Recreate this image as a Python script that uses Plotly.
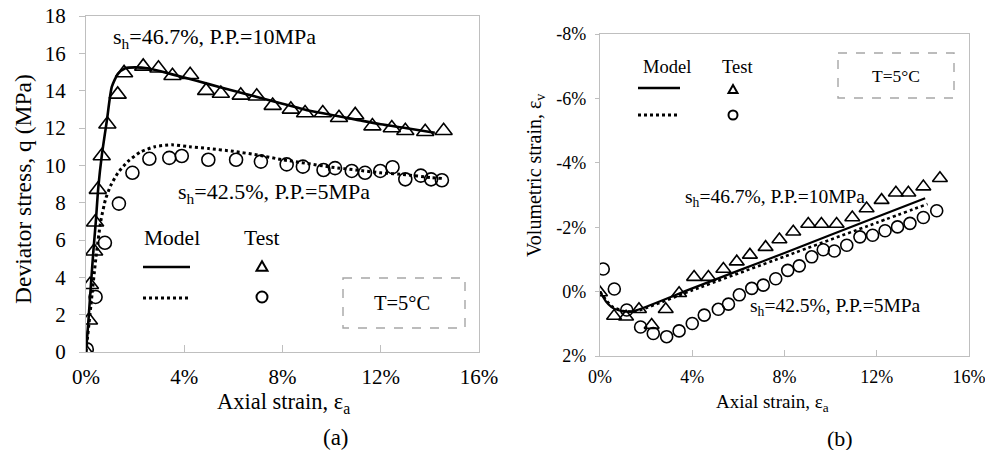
import plotly.graph_objects as go

# Page is offset by the browser's default 8px body margin; figure drawn to fill the rest of the window.
OFF = 8
W, H = 993 - OFF, 450 - OFF
FONT = "'Liberation Serif', 'Times New Roman', Times, serif"

# ---------------- data (a): deviator stress ----------------
a_tri_x = [0.0, 0.12, 0.16, 0.33, 0.37, 0.48, 0.64, 0.87, 1.29, 1.55, 2.33, 2.95, 3.52, 4.24, 4.89, 5.49,
           6.30, 6.95, 7.60, 8.34, 8.92, 9.64, 10.30, 10.96, 11.66, 12.45, 13.00, 13.81, 14.56]
a_tri_y = [0.0, 1.7, 3.6, 5.4, 6.95, 8.7, 10.5, 12.2, 13.8, 14.95, 15.3, 15.2, 14.8, 14.85, 14.0, 13.85,
           13.75, 13.7, 13.2, 13.0, 12.8, 12.8, 12.55, 12.7, 12.1, 12.0, 11.85, 11.8, 11.85]
a_cir_x = [0.03, 0.39, 0.77, 1.34, 1.89, 2.58, 3.39, 3.90, 4.98, 6.11, 7.12, 8.17, 8.83, 9.67, 10.14,
           10.82, 11.36, 11.98, 12.48, 13.00, 13.63, 14.05, 14.49]
a_cir_y = [0.15, 2.95, 5.85, 7.95, 9.6, 10.35, 10.4, 10.5, 10.3, 10.3, 10.2, 10.05, 9.93, 9.75, 9.85,
           9.7, 9.6, 9.7, 9.9, 9.25, 9.45, 9.25, 9.2]
a_mod1_x = [0.0, 0.1, 0.2, 0.3, 0.4, 0.5, 0.65, 0.85, 1.05, 1.3, 1.6, 2.0, 2.5, 3.0, 4.0, 5.0, 6.0, 7.0,
            8.0, 9.0, 10.0, 11.0, 12.0, 13.0, 14.2]
a_mod1_y = [0.0, 1.7, 3.6, 5.4, 7.0, 8.8, 10.6, 12.4, 14.2, 14.9, 15.2, 15.25, 15.2, 15.05, 14.7, 14.35,
            14.0, 13.65, 13.3, 12.95, 12.7, 12.45, 12.2, 12.0, 11.75]
a_mod2_x = [0.0, 0.2, 0.4, 0.6, 0.8, 1.0, 1.3, 1.7, 2.2, 2.8, 3.5, 4.2, 5.0, 6.0, 7.0, 8.0, 9.0, 10.0,
            11.0, 12.0, 13.0, 14.0, 14.5]
a_mod2_y = [0.0, 2.5, 5.0, 7.0, 8.2, 8.9, 9.6, 10.2, 10.7, 11.0, 11.1, 11.0, 10.9, 10.75, 10.55, 10.3,
            10.1, 9.9, 9.75, 9.6, 9.5, 9.35, 9.3]

# ---------------- data (b): volumetric strain (%) ----------------
b_tri_x = [0.0, 0.61, 1.13, 1.69, 2.24, 2.85, 3.43, 4.08, 4.70, 5.35, 5.93, 6.50, 7.18, 7.78, 8.38,
           9.03, 9.60, 10.26, 10.94, 11.56, 12.21, 12.83, 13.37, 14.02, 14.74]
b_tri_y = [0.03, 0.76, 0.78, 0.55, 1.04, 0.55, 0.05, -0.45, -0.45, -0.70, -0.93, -1.14, -1.38, -1.62,
           -1.86, -2.10, -2.10, -2.10, -2.30, -2.58, -2.84, -3.07, -3.07, -3.26, -3.52]
b_cir_x = [0.14, 0.62, 1.16, 1.76, 2.31, 2.89, 3.43, 4.00, 4.52, 5.13, 5.57, 6.04, 6.58, 7.08, 7.62,
           8.14, 8.64, 9.18, 9.68, 10.16, 10.70, 11.27, 11.82, 12.36, 12.90, 13.44, 14.02, 14.60]
b_cir_y = [-0.70, -0.08, 0.57, 1.10, 1.30, 1.40, 1.22, 0.99, 0.73, 0.55, 0.39, 0.10, -0.10, -0.20, -0.40,
           -0.66, -0.80, -1.08, -1.30, -1.26, -1.44, -1.70, -1.75, -1.89, -2.01, -2.12, -2.30, -2.51]
b_mod1_x = [0.0, 0.25, 0.5, 0.8, 1.1, 1.5, 4.0, 8.0, 12.0, 14.1]
b_mod1_y = [0.0, 0.3, 0.48, 0.58, 0.62, 0.6, -0.1, -1.2, -2.32, -2.9]
b_mod2_x = [0.0, 0.5, 1.0, 1.5, 4.0, 8.0, 12.0, 14.2]
b_mod2_y = [0.0, 0.45, 0.6, 0.62, -0.04, -1.09, -2.14, -2.72]

a_xticks = [0, 4, 8, 12, 16]
a_xtext = ["0%", "4%", "8%", "12%", "16%"]
a_yticks = [0, 2, 4, 6, 8, 10, 12, 14, 16, 18]
b_yticks = [-8, -6, -4, -2, 0, 2]
b_ytext = ["-8%", "-6%", "-4%", "-2%", "0%", "2%"]

# ---------------- layout helpers (window pixel -> paper) ----------------
def px(x):
    return (x - OFF) / W

def py(y):
    return 1 - (y - OFF) / H

AL, AR, AT, AB = 86, 479, 16, 352
BL, BR, BT, BB = 600, 969, 34, 356
GRAY = "#bfbfbf"

fig = go.Figure()

def lines(xs, ys, xa, ya, dash, width):
    fig.add_trace(go.Scatter(x=xs, y=ys, xaxis=xa, yaxis=ya, mode="lines",
                             line=dict(color="black", width=width, dash=dash, shape="spline", smoothing=0.6),
                             showlegend=False, hoverinfo="skip"))

def marks(xs, ys, xa, ya, sym, size):
    fig.add_trace(go.Scatter(x=xs, y=ys, xaxis=xa, yaxis=ya, mode="markers",
                             marker=dict(symbol=sym, size=size, color="black",
                                         line=dict(color="black", width=1.6)),
                             showlegend=False, hoverinfo="skip"))

lines(a_mod1_x, a_mod1_y, "x", "y", "solid", 2.6)
lines(a_mod2_x, a_mod2_y, "x", "y", "dot", 3)
marks(a_tri_x, a_tri_y, "x", "y", "triangle-up-open", 15)
marks(a_cir_x, a_cir_y, "x", "y", "circle-open", 13)

lines(b_mod1_x, b_mod1_y, "x2", "y2", "solid", 2.2)
lines(b_mod2_x, b_mod2_y, "x2", "y2", "dot", 2.6)
marks(b_tri_x, b_tri_y, "x2", "y2", "triangle-up-open", 13)
marks(b_cir_x, b_cir_y, "x2", "y2", "circle-open", 12)

axcommon = dict(showgrid=False, zeroline=False, showline=True, mirror=True, linecolor=GRAY, linewidth=1.3,
                tickcolor=GRAY, tickwidth=1.2, automargin=False, ticklabeloverflow="allow")

fig.update_layout(
    template="none",
    width=W, height=H, margin=dict(l=0, r=0, t=0, b=0, pad=0, autoexpand=False),
    paper_bgcolor="white", plot_bgcolor="white", showlegend=False,
    font=dict(family=FONT, color="black"),
    xaxis=dict(domain=[px(AL), px(AR)], range=[0, 16], tickvals=a_xticks, ticktext=a_xtext,
               ticks="inside", ticklen=7, anchor="y", ticklabelstandoff=6,
               tickfont=dict(size=21, family=FONT, color="black"), **axcommon),
    yaxis=dict(domain=[py(AB), py(AT)], range=[0, 18], tickvals=a_yticks, ticks="outside", ticklen=6,
               anchor="x", ticklabelstandoff=9,
               tickfont=dict(size=21, family=FONT, color="black"), **axcommon),
    xaxis2=dict(domain=[px(BL), px(BR)], range=[0, 16], tickvals=a_xticks, ticktext=a_xtext,
                ticks="inside", ticklen=6, anchor="y2", ticklabelstandoff=4,
                tickfont=dict(size=18, family=FONT, color="black"), **axcommon),
    yaxis2=dict(domain=[py(BB), py(BT)], range=[2, -8], tickvals=b_yticks, ticktext=b_ytext,
                ticks="outside", ticklen=4, anchor="x2", ticklabelstandoff=5,
                tickfont=dict(size=18, family=FONT, color="black"), **axcommon),
)

ann = []
def text(x, y, s, size, xanchor="center", angle=0):
    ann.append(dict(x=px(x), y=py(y), xref="paper", yref="paper", text=s, showarrow=False,
                    xanchor=xanchor, yanchor="middle", textangle=angle,
                    font=dict(family=FONT, size=size, color="black")))

# panel (a)
text(111, 38, "s<sub>h</sub>=46.7%, P.P.=10MPa", 22, "left")
text(176, 193, "s<sub>h</sub>=42.5%, P.P.=5MPa", 22, "left")
text(172, 238, "Model", 21.5)
text(262, 238, "Test", 21.5)
text(402, 303, "T=5°C", 20.5)
text(283, 403, "Axial strain, ε<sub>a</sub>", 22.5)
text(336, 437, "(a)", 23)
text(23, 189, "Deviator stress, q (MPa)", 23.5, angle=-90)
# panel (b)
text(667, 67, "Model", 18.5)
text(737, 67, "Test", 18.5)
text(896, 76, "T=5°C", 17.5)
text(683, 198, "s<sub>h</sub>=46.7%, P.P.=10MPa", 19.5, "left")
text(748, 307, "s<sub>h</sub>=42.5%, P.P.=5MPa", 19.5, "left")
text(772, 403, "Axial strain, ε<sub>a</sub>", 19)
text(840, 438, "(b)", 22)
text(535, 176, "Volumetric strain, ε<sub>v</sub>", 20, angle=-90)

shapes = []
def seg(x0, y0, x1, y1, dash, width):
    shapes.append(dict(type="line", xref="paper", yref="paper", x0=px(x0), y0=py(y0), x1=px(x1), y1=py(y1),
                       line=dict(color="black", width=width, dash=dash)))

def box(x0, y0, x1, y1):
    shapes.append(dict(type="rect", xref="paper", yref="paper", x0=px(x0), y0=py(y0), x1=px(x1), y1=py(y1),
                       line=dict(color="#a6a6a6", width=1.4, dash="dash")))

def tri(cx, cy, s):
    h = s * 0.87
    path = "M {} {} L {} {} L {} {} Z".format(px(cx - s / 2), py(cy + h / 2), px(cx + s / 2), py(cy + h / 2),
                                             px(cx), py(cy - h / 2))
    shapes.append(dict(type="path", xref="paper", yref="paper", path=path, line=dict(color="black", width=2)))

def circ(cx, cy, r):
    shapes.append(dict(type="circle", xref="paper", yref="paper", x0=px(cx - r), x1=px(cx + r),
                       y0=py(cy + r), y1=py(cy - r), line=dict(color="black", width=2)))

seg(143, 267, 190, 267, "solid", 2.6)
seg(143, 298, 188, 298, "dot", 3)
tri(262, 266, 11)
circ(262, 297, 5.5)
box(343, 278, 465, 328)

seg(638, 88, 680, 88, "solid", 2.6)
seg(638, 115, 679, 115, "dot", 3)
tri(733, 89, 9)
circ(733, 115, 4.5)
box(838, 53, 954, 98)

fig.update_layout(annotations=ann, shapes=shapes)
fig.write_html("out.html")
